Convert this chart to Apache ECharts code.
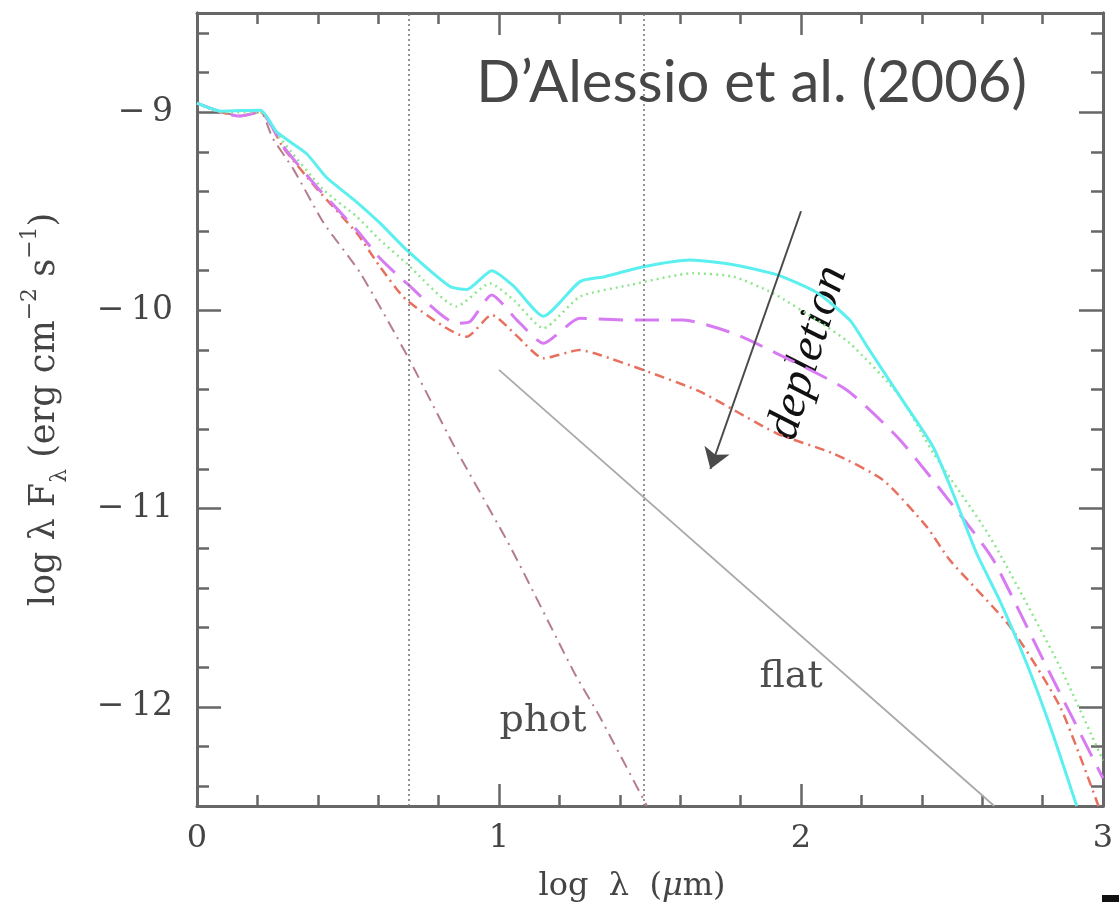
<!DOCTYPE html>
<html><head><meta charset="utf-8">
<script src="https://cdn.jsdelivr.net/npm/echarts@6/dist/echarts.min.js"></script>
<style>html,body{margin:0;padding:0;background:#fff}#c{width:1119px;height:902px}</style>
</head><body><div id="c"></div>
<script>
// ---- data (log lambda [um], log lambda F_lambda) ----
const solidCurve = [[0,-8.955],[0.08,-8.995],[0.21,-8.99],[0.264,-9.10],[0.363,-9.21],[0.429,-9.33],[0.518,-9.44],[0.606,-9.56],[0.694,-9.695],[0.838,-9.88],[0.893,-9.895],[0.976,-9.80],[1.05,-9.88],[1.147,-10.03],[1.268,-9.855],[1.35,-9.83],[1.478,-9.78],[1.632,-9.746],[1.776,-9.77],[1.919,-9.82],[2.052,-9.91],[2.162,-10.05],[2.218,-10.18],[2.328,-10.435],[2.438,-10.69],[2.50,-10.91],[2.58,-11.22],[2.66,-11.47],[2.747,-11.78],[2.83,-12.12],[2.913,-12.5]];
const dottedCurve = [[0,-8.955],[0.08,-9.0],[0.21,-9.0],[0.28,-9.14],[0.418,-9.39],[0.529,-9.527],[0.606,-9.645],[0.694,-9.763],[0.86,-9.98],[0.97,-9.864],[1.05,-9.95],[1.147,-10.09],[1.268,-9.931],[1.434,-9.872],[1.643,-9.813],[1.776,-9.83],[1.908,-9.914],[2.052,-10.049],[2.162,-10.166],[2.328,-10.435],[2.438,-10.72],[2.604,-11.09],[2.67,-11.26],[2.858,-11.80],[3.0,-12.27]];
const dashedCurve = [[0,-8.955],[0.08,-9.0],[0.14,-9.02],[0.21,-9.0],[0.286,-9.174],[0.396,-9.376],[0.529,-9.595],[0.606,-9.737],[0.694,-9.863],[0.86,-10.065],[0.904,-10.057],[0.976,-9.922],[1.06,-10.05],[1.147,-10.166],[1.268,-10.04],[1.434,-10.049],[1.61,-10.049],[1.776,-10.116],[1.919,-10.217],[2.15,-10.40],[2.328,-10.654],[2.549,-11.074],[2.637,-11.259],[2.802,-11.763],[3.0,-12.36]];
const dashDotCurve = [[0,-8.955],[0.08,-9.0],[0.14,-9.02],[0.21,-9.0],[0.286,-9.18],[0.396,-9.385],[0.529,-9.61],[0.606,-9.78],[0.694,-9.948],[0.893,-10.133],[0.976,-10.023],[1.06,-10.13],[1.147,-10.242],[1.268,-10.20],[1.334,-10.225],[1.478,-10.301],[1.666,-10.41],[1.919,-10.62],[2.107,-10.722],[2.272,-10.856],[2.416,-11.091],[2.493,-11.26],[2.692,-11.595],[2.858,-12.0],[2.985,-12.5]];
const photCurve = [[0,-8.955],[0.08,-9.0],[0.15,-9.02],[0.21,-9.0],[0.25,-9.13],[0.32,-9.29],[0.42,-9.56],[0.54,-9.81],[0.70,-10.24],[0.85,-10.68],[1.04,-11.2],[1.25,-11.83],[1.33,-12.04],[1.49,-12.5]];
const flatLine = [[1.0,-10.3],[2.64,-12.5]];
const verticalMarks = [0.699, 1.477];
const depletionArrow = [[2.0,-9.5],[1.7,-10.8]];
const yMajorTicks = [-12,-11,-10,-9];
const yMinorTicks = [-12.4,-12.2,-11.8,-11.6,-11.4,-11.2,-10.8,-10.6,-10.4,-10.2,-9.8,-9.6,-9.4,-9.2,-8.8,-8.6];
const annotations = [
  {text:'phot', at:[1.146,-12.07]},
  {text:'flat', at:[1.967,-11.85]},
  {text:'depletion', at:[2.023,-10.215], rotate:73, italic:true}
];
const titleText = 'D\u2019Alessio et al. (2006)';

const AX = '#676767';
const SERIF = 'DejaVu Serif';
const chart = echarts.init(document.getElementById('c'));

function xAx(pos, labels){
  return {
    type:'value', min:0, max:3, interval:1, position:pos,
    axisLine:{show:true, onZero:false, lineStyle:{color:AX, width:3}},
    axisTick:{show:true, inside:true, length:22, lineStyle:{color:AX, width:2.5}},
    minorTick:{show:true, splitNumber:5, length:11, lineStyle:{color:AX, width:2.5}},
    splitLine:{show:false}, minorSplitLine:{show:false},
    axisLabel:{show:labels, margin:17, fontFamily:SERIF, fontSize:32, color:'#444'},
    name: labels ? '{a|log  \u03bb  (}{i|\u03bc}{a|m)}' : '',
    nameLocation:'middle', nameGap:65,
    nameTextStyle:{padding:[0,36,0,0], rich:{
      a:{fontFamily:SERIF, fontSize:32, color:'#444'},
      i:{fontFamily:SERIF, fontStyle:'italic', fontSize:32, color:'#444'}}}
  };
}
function yAx(pos, ticks, len, labels){
  return {
    type:'value', min:-12.5, max:-8.5, position:pos,
    axisLine:{show:true, onZero:false, lineStyle:{color:AX, width:3}},
    axisTick:{show:true, inside:true, length:len, customValues:ticks, lineStyle:{color:AX, width:2.5}},
    splitLine:{show:false},
    axisLabel:{show:labels, customValues:ticks, margin:24, fontFamily:SERIF, fontSize:33, color:'#444',
      formatter:v => (v<0?'\u2212\u2009':'') + Math.abs(v)},
    name: labels ? '{n|log \u03bb F}{sub|\u03bb}{n| (erg cm}{sup|\u22122}{n| s}{sup|\u22121}{n|)}' : '',
    nameLocation:'middle', nameGap:126, nameRotate:90,
    nameTextStyle:{rich:{
      n:{fontFamily:SERIF, fontSize:35, color:'#444', lineHeight:52, verticalAlign:'middle'},
      sub:{fontFamily:SERIF, fontSize:22, color:'#444', lineHeight:52, verticalAlign:'bottom'},
      sup:{fontFamily:SERIF, fontSize:22, color:'#444', lineHeight:52, verticalAlign:'top'}}}
  };
}
function line(data, color, width, type, extra){
  return Object.assign({type:'line', data:data, showSymbol:false, symbol:'none', smooth:0.2,
    clip:true, silent:true, animation:false,
    lineStyle:{color:color, width:width, type:type}}, extra||{});
}

const option = {
  animation:false,
  title:{text:titleText, right:87, top:49,
    textStyle:{fontFamily:'Lato', fontWeight:'normal', fontSize:58, color:'#474747'}},
  grid:{left:197, right:16, top:13, bottom:96, containLabel:false, outerBoundsMode:'none'},
  xAxis:[xAx('bottom', true), xAx('top', false)],
  yAxis:[yAx('left', yMajorTicks, 24, true), yAx('left', yMinorTicks, 12, false),
         yAx('right', yMajorTicks, 24, false), yAx('right', yMinorTicks, 12, false)],
  series:[
    line(flatLine, '#a9a9a9', 1.8, 'solid', {smooth:false,
      markLine:{silent:true, symbol:['none','none'], label:{show:false},
        lineStyle:{color:'#7a7a7a', width:1.6, type:[2,3]},
        data: verticalMarks.map(v => ({xAxis:v}))}}),
    line(photCurve, '#b57d8c', 2, [12,6,2,6], {
      markLine:{silent:true, symbol:['none','arrow'], symbolSize:20, label:{show:false},
        lineStyle:{color:'#4a4a4a', width:2, type:'solid'},
        data:[[{coord:depletionArrow[0]},{coord:depletionArrow[1]}]]}}),
    line(dashDotCurve, '#e8705f', 2.5, [10,5,2,5]),
    line(dashedCurve, '#d77bf2', 3, [24,12]),
    line(dottedCurve, '#8fe68f', 2.5, [2,4]),
    line(solidCurve, '#5cefef', 3, 'solid')
  ]
};
chart.setOption(option);

const g = annotations.map(a => {
  const p = chart.convertToPixel({xAxisIndex:0, yAxisIndex:0}, a.at);
  return {type:'text', x:p[0], y:p[1], rotation:(a.rotate||0)*Math.PI/180, silent:true,
    style:{text:a.text, align:'center', verticalAlign:'middle',
      fontFamily: a.italic ? 'Liberation Serif' : SERIF,
      fontStyle: a.italic ? 'italic' : 'normal',
      fontSize: a.italic ? 48 : 38,
      fill: a.italic ? '#111' : '#4d4d4d'}};
});
g.push({type:'rect', shape:{x:1102, y:895, width:17, height:7}, style:{fill:'#111'}, silent:true});
chart.setOption({graphic:g});
</script></body></html>
